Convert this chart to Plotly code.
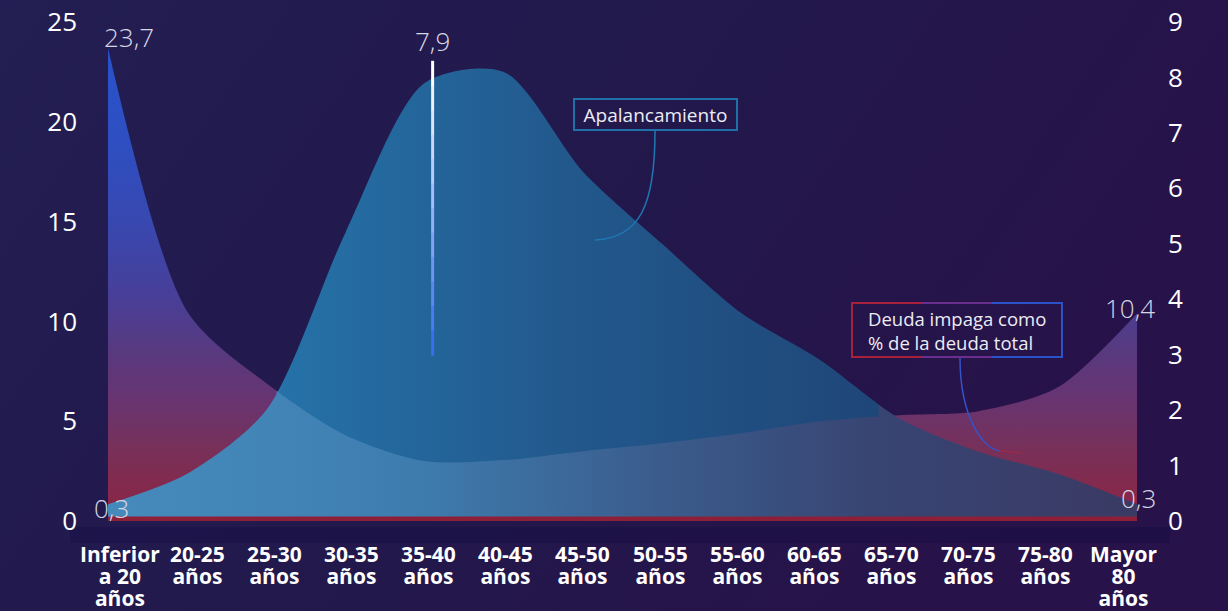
import base64
import plotly.graph_objects as go

# ---------------- data ----------------
categories = ["Inferior<br>a 20<br>años", "20-25<br>años", "25-30<br>años", "30-35<br>años",
              "35-40<br>años", "40-45<br>años", "45-50<br>años", "50-55<br>años",
              "55-60<br>años", "60-65<br>años", "65-70<br>años", "70-75<br>años",
              "75-80<br>años", "Mayor<br>80<br>años"]
deuda_impaga = [23.7, 10.5, 6.9, 4.3, 3.0, 3.05, 3.5, 3.9, 4.4, 5.0, 5.3, 5.5, 6.7, 10.4]
apalancamiento = [0.3, 0.85, 2.0, 5.2, 7.9, 8.1, 6.3, 5.0, 3.75, 2.9, 1.85, 1.25, 0.85, 0.3]
left_ticks = [0, 5, 10, 15, 20, 25]
right_ticks = [0, 1, 2, 3, 4, 5, 6, 7, 8, 9]
value_labels = {"first_deuda": "23,7", "first_apal": "0,3", "peak_apal": "7,9",
                "last_deuda": "10,4", "last_apal": "0,3"}
series_names = ["Deuda impaga como<br>% de la deuda total", "Apalancamiento"]

x = list(range(len(categories)))
n_last = len(categories) - 1

# ---------------- geometry helpers (pixel -> paper) ----------------
W, H = 1228, 611
ML, MR, MT, MB = 108, 91, 22, 90
PW, PH = W - ML - MR, H - MT - MB


def px(xp):
    return (xp - ML) / PW


def py(yp):
    return (H - MB - yp) / PH


FONT = "Open Sans"
BG = "#221a4d"

c1, c2 = 0.165, 0.75  # where the two areas cross (fraction of x range)
e = 0.002

fig = go.Figure()

# deuda impaga (base, vertical gradient)
fig.add_trace(go.Scatter(
    x=x, y=deuda_impaga, yaxis="y", mode="lines", name="Deuda impaga",
    line=dict(width=0, shape="spline", smoothing=0.8),
    fill="tozeroy",
    fillgradient=dict(type="vertical", start=0, stop=25, colorscale=[
        [0, "rgb(142,36,66)"], [0.14, "rgb(120,48,88)"], [0.24, "rgb(104,52,112)"],
        [0.34, "rgb(88,57,127)"], [0.45, "rgb(72,63,152)"], [0.6, "rgb(56,72,176)"],
        [0.75, "rgb(46,78,192)"], [1, "rgb(38,84,206)"]]),
    hoverinfo="skip", showlegend=False))

# apalancamiento (horizontal gradient)
fig.add_trace(go.Scatter(
    x=x, y=apalancamiento, yaxis="y2", mode="lines", name="Apalancamiento",
    line=dict(width=0, shape="spline", smoothing=0.8),
    fill="tozeroy",
    fillgradient=dict(type="horizontal", start=0, stop=n_last, colorscale=[
        [0, "rgb(70,138,188)"], [c1, "rgb(66,132,182)"], [c1 + e, "rgb(37,114,168)"],
        [0.45, "rgb(34,88,140)"], [c2 - e, "rgb(31,70,120)"], [c2, "rgb(56,68,114)"],
        [1, "rgb(58,58,100)"]]),
    hoverinfo="skip", showlegend=False))

# overlap region in the middle (deuda under apalancamiento), on its own overlay axis so it sits on top
fig.add_trace(go.Scatter(
    x=x, y=deuda_impaga, yaxis="y3", mode="lines", name="overlap",
    line=dict(width=0, shape="spline", smoothing=0.8),
    fill="tozeroy",
    fillgradient=dict(type="horizontal", start=0, stop=n_last, colorscale=[
        [0, "rgba(66,132,182,0)"], [c1 - e, "rgba(66,132,182,0)"], [c1, "rgba(66,132,182,1)"],
        [0.3, "rgba(62,124,174,1)"], [0.55, "rgba(58,90,138,1)"], [c2, "rgba(56,68,114,1)"],
        [c2 + e, "rgba(56,68,114,0)"], [1, "rgba(56,68,114,0)"]]),
    hoverinfo="skip", showlegend=False))

shapes = []
# red base band
shapes.append(dict(type="line", xref="x", yref="y", x0=0, x1=n_last, y0=0, y1=0,
                   line=dict(color="#8d2038", width=9), layer="above"))
# shadow under the plot
shapes.append(dict(type="rect", xref="paper", yref="paper", x0=px(70), x1=px(1170),
                   y0=py(543), y1=py(527), fillcolor="rgba(18,12,68,0.35)",
                   line=dict(width=0), layer="below"))

# vertical marker line at the apalancamiento peak (white -> blue)
nseg = 12
y_lo, y_hi = 3.0, 8.3
for k in range(nseg):
    t = k / (nseg - 1)
    r = int(255 + (58 - 255) * t)
    g = int(255 + (110 - 255) * t)
    b = int(255 + (240 - 255) * t)
    shapes.append(dict(type="line", xref="x", yref="y2", xsizemode="pixel", xanchor=4,
                       x0=8, x1=8,
                       y0=y_hi - (y_hi - y_lo) * k / nseg,
                       y1=y_hi - (y_hi - y_lo) * (k + 1) / nseg - 0.02,
                       line=dict(color=f"rgb({r},{g},{b})", width=3), layer="above"))

# Apalancamiento leader
shapes.append(dict(type="path", xref="paper", yref="paper", layer="above",
                   path=f"M {px(655)},{py(131)} C {px(655)},{py(205)} {px(640)},{py(238)} {px(595)},{py(240)}",
                   line=dict(color="#1f78b4", width=1.5)))
# Deuda leader
shapes.append(dict(type="path", xref="paper", yref="paper", layer="above",
                   path=f"M {px(960)},{py(358)} C {px(960)},{py(420)} {px(985)},{py(450)} {px(1000)},{py(451)}",
                   line=dict(color="#3552c8", width=1.5)))
shapes.append(dict(type="path", xref="paper", yref="paper", layer="above",
                   path=f"M {px(1000)},{py(451)} L {px(1022)},{py(453)}",
                   line=dict(color="#9a2a4a", width=1.5)))

# Deuda box border (red -> purple -> blue)
shapes.append(dict(type="path", xref="paper", yref="paper", layer="above",
                   path=f"M {px(922)},{py(303)} L {px(852)},{py(303)} L {px(852)},{py(357)} L {px(922)},{py(357)}",
                   line=dict(color="#a8203a", width=2)))
shapes.append(dict(type="path", xref="paper", yref="paper", layer="above",
                   path=f"M {px(922)},{py(303)} L {px(992)},{py(303)} M {px(922)},{py(357)} L {px(992)},{py(357)}",
                   line=dict(color="#6a2f8e", width=2)))
shapes.append(dict(type="path", xref="paper", yref="paper", layer="above",
                   path=f"M {px(992)},{py(303)} L {px(1062)},{py(303)} L {px(1062)},{py(357)} L {px(992)},{py(357)}",
                   line=dict(color="#2b52c8", width=2)))

annotations = []
# x category labels: base font 17 gives ~22px line spacing, glyphs enlarged via span
for i, lab in enumerate(categories):
    annotations.append(dict(x=i, xref="x", y=0, yref="paper", xanchor="center", yanchor="top",
                            xshift=12 - 2.0 * i, yshift=-18, showarrow=False, align="center",
                            text=f'<span style="font-size:21px">{lab}</span>', borderpad=0,
                            font=dict(family=FONT, size=17, color="#ffffff", weight=700)))

vfont = dict(family=FONT, size=26, color="#d6d6e4", weight=300)
annotations += [
    dict(x=0, y=deuda_impaga[0], xref="x", yref="y", text=value_labels["first_deuda"], showarrow=False,
         xanchor="left", yanchor="bottom", xshift=-6, yshift=-9, font=vfont),
    dict(x=0, y=apalancamiento[0], xref="x", yref="y2", text=value_labels["first_apal"], showarrow=False,
         xanchor="center", yanchor="middle", xshift=3, yshift=-4, font=vfont),
    dict(x=4, y=y_hi, xref="x", yref="y2", text=value_labels["peak_apal"], showarrow=False,
         xanchor="center", yanchor="bottom", xshift=8, yshift=0, font=vfont),
    dict(x=n_last, y=deuda_impaga[-1], xref="x", yref="y", text=value_labels["last_deuda"], showarrow=False,
         xanchor="center", yanchor="middle", xshift=-7, yshift=5, font=vfont),
    dict(x=n_last, y=apalancamiento[-1], xref="x", yref="y2", text=value_labels["last_apal"], showarrow=False,
         xanchor="center", yanchor="middle", xshift=1, yshift=6, font=vfont),
]
# series name boxes
annotations.append(dict(x=px(655.5), y=py(114.5), xref="paper", yref="paper", text=series_names[1],
                        showarrow=False, xanchor="center", yanchor="middle", width=161, height=29,
                        borderpad=0, bordercolor="#1f6fa8", borderwidth=2, align="center",
                        font=dict(family=FONT, size=19, color="#ececf4")))
annotations.append(dict(x=px(866), y=py(330), xref="paper", yref="paper", text=series_names[0],
                        showarrow=False, xanchor="left", yanchor="middle", align="left",
                        font=dict(family=FONT, size=18.5, color="#ececf4")))

# subtle background gradient (blue-ish left -> purple right)
svg = (f"<svg xmlns='http://www.w3.org/2000/svg' width='{W}' height='{H}' preserveAspectRatio='none'>"
       "<defs><linearGradient id='g' x1='0' y1='0' x2='1' y2='0.35'>"
       "<stop offset='0' stop-color='#231e53'/><stop offset='0.55' stop-color='#22184b'/>"
       "<stop offset='1' stop-color='#271249'/></linearGradient></defs>"
       "<rect width='100%' height='100%' fill='url(#g)'/></svg>")
bg_src = "data:image/svg+xml;base64," + base64.b64encode(svg.encode()).decode()

tickfont = dict(family=FONT, size=26, color="#ffffff")
fig.update_layout(
    width=W, height=H, autosize=False,
    margin=dict(l=ML, r=MR, t=MT, b=MB, pad=0, autoexpand=False),
    paper_bgcolor=BG, plot_bgcolor="rgba(0,0,0,0)",
    showlegend=False,
    xaxis=dict(range=[0, n_last], showgrid=False, zeroline=False, showticklabels=False,
               showline=False, fixedrange=True, automargin=False),
    yaxis=dict(range=[0, 25], tickvals=left_ticks, showgrid=False, zeroline=False, showline=False,
               tickfont=tickfont, ticklabelstandoff=30, fixedrange=True, automargin=False),
    yaxis2=dict(range=[0, 9], tickvals=right_ticks, overlaying="y", side="right", showgrid=False,
                zeroline=False, showline=False, tickfont=tickfont, ticklabelstandoff=30,
                fixedrange=True, automargin=False),
    yaxis3=dict(range=[0, 25], overlaying="y", visible=False, fixedrange=True, automargin=False),
    images=[dict(source=bg_src, xref="paper", yref="paper", x=px(0), y=py(0),
                 sizex=W / PW, sizey=H / PH, sizing="stretch", xanchor="left", yanchor="top",
                 layer="below", opacity=1)],
    shapes=shapes, annotations=annotations,
)

fig.write_html("out.html", config={"displayModeBar": False},
               post_script="document.body.style.margin='0';document.body.style.overflow='hidden';")
